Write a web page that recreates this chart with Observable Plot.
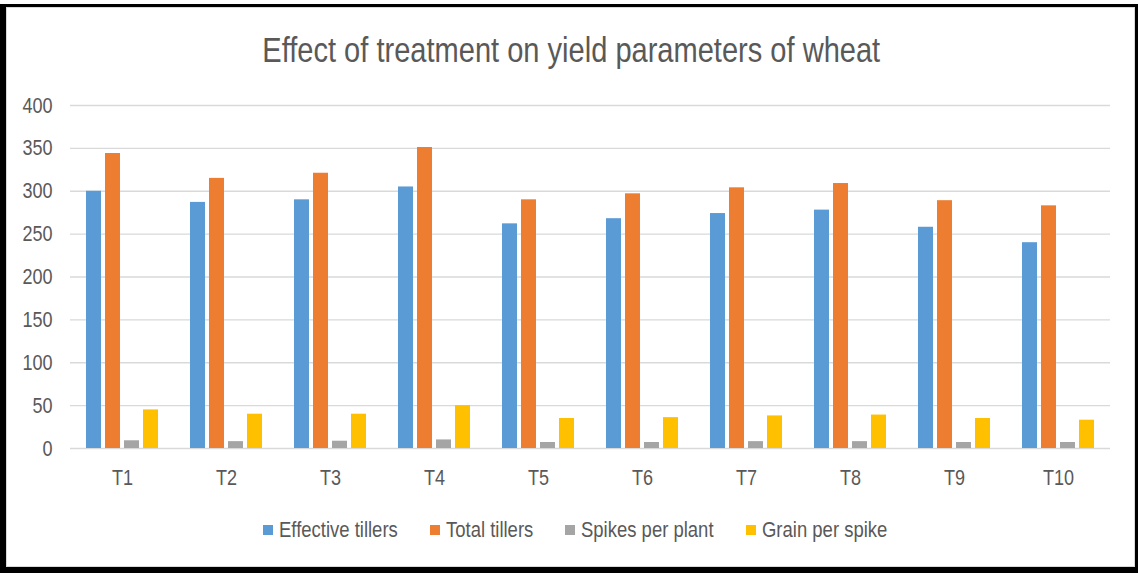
<!DOCTYPE html>
<html>
<head>
<meta charset="utf-8">
<script src="https://cdn.jsdelivr.net/npm/d3@7"></script>
<script src="https://cdn.jsdelivr.net/npm/@observablehq/plot@0.6"></script>
<style>
  html, body { margin: 0; padding: 0; background: #fff; }
  #wrap { position: relative; width: 1138px; height: 573px; overflow: hidden;
    font-family: "Liberation Sans", Arial, sans-serif; color: #595959; }
  #frame { position: absolute; left: 0; top: 4px; width: 1138px; height: 569px; box-sizing: border-box;
    border-style: solid; border-color: #000; border-width: 3px 3px 6px 6px; pointer-events: none; }
  #inner { position: absolute; left: 6px; top: 7px; width: 1129px; height: 560px; box-sizing: border-box;
    border: 1px solid #d9d9d9; pointer-events: none; }
  #title { position: absolute; left: 0; top: 28px; width: 1142px; text-align: center; font-size: 35px; line-height: 44px; color: #595959; }
  #title span { display: inline-block; transform: scaleX(0.83); transform-origin: center; white-space: nowrap; }
  #chart { position: absolute; left: 0; top: 0; }
  #legend { position: absolute; left: 0; top: 516px; width: 1150px; display: flex; justify-content: center; font-size: 22px; line-height: 28px; }
  .item { display: flex; align-items: center; margin: 0 16px; }
  .sw { width: 10px; height: 10px; margin-right: 6px; flex: none; }
  .lt { display: inline-block; transform: scaleX(0.84); transform-origin: left center; white-space: nowrap; }
</style>
</head>
<body>
<div id="wrap">
  <div id="title"><span>Effect of treatment on yield parameters of wheat</span></div>
  <div id="chart"></div>
  <div id="legend"></div>
  <div id="inner"></div>
  <div id="frame"></div>
</div>
<script>
const categories = ["T1", "T2", "T3", "T4", "T5", "T6", "T7", "T8", "T9", "T10"];
const series = ["Effective tillers", "Total tillers", "Spikes per plant", "Grain per spike"];
const effectiveTillers = [300, 287, 290, 305, 262, 268, 274, 278, 258, 240];
const totalTillers = [344, 315, 321, 351, 290, 297, 304, 309, 289, 283];
const spikesPerPlant = [9, 8, 8.5, 10, 7, 7, 8, 8, 7, 7];
const grainPerSpike = [45, 40, 40, 50, 35, 36, 38, 39, 35, 33];
const yTicks = [0, 50, 100, 150, 200, 250, 300, 350, 400];
const colors = ["#5B9BD5", "#ED7D31", "#A5A5A5", "#FFC000"];

const valuesBySeries = [effectiveTillers, totalTillers, spikesPerPlant, grainPerSpike];
const data = [];
categories.forEach((c, i) => {
  series.forEach((s, j) => data.push({category: c, series: s, value: valuesBySeries[j][i]}));
});

const chart = Plot.plot({
  width: 1138,
  height: 500,
  marginTop: 105,
  marginBottom: 52,
  marginLeft: 70,
  marginRight: 28,
  style: {fontFamily: '"Liberation Sans", Arial, sans-serif', fontSize: "22px", color: "#595959", background: "transparent"},
  fx: {domain: categories, padding: 0, label: null, axis: "bottom", tickSize: 0, tickPadding: 21},
  x: {domain: series, axis: null, paddingInner: 0.21, paddingOuter: 0.84},
  y: {domain: [0, 400], ticks: yTicks, tickSize: 0, tickPadding: 18, label: null},
  color: {domain: series, range: colors},
  marks: [
    Plot.ruleY(yTicks, {stroke: "#d9d9d9", strokeWidth: 1.3}),
    Plot.barY(data, {fx: "category", x: "series", y: "value", fill: "series"})
  ]
});
document.getElementById("chart").appendChild(chart);

// Narrow the axis text horizontally (no condensed face installed)
chart.querySelectorAll("text").forEach(t => {
  const b = t.getBBox();
  const anchor = getComputedStyle(t).textAnchor;
  const cx = anchor === "end" ? b.x + b.width : anchor === "start" ? b.x : b.x + b.width / 2;
  const prev = t.getAttribute("transform") || "";
  t.setAttribute("transform", `${prev} translate(${cx} 0) scale(0.82 1) translate(${-cx} 0)`.trim());
});

const legend = document.getElementById("legend");
series.forEach((s, j) => {
  const item = document.createElement("div");
  item.className = "item";
  const sw = document.createElement("span");
  sw.className = "sw";
  sw.style.background = colors[j];
  const t = document.createElement("span");
  t.className = "lt";
  t.textContent = s;
  item.appendChild(sw);
  item.appendChild(t);
  legend.appendChild(item);
});
legend.querySelectorAll(".lt").forEach(t => {
  t.style.marginRight = (-0.16 * t.offsetWidth) + "px";
});
</script>
</body>
</html>
